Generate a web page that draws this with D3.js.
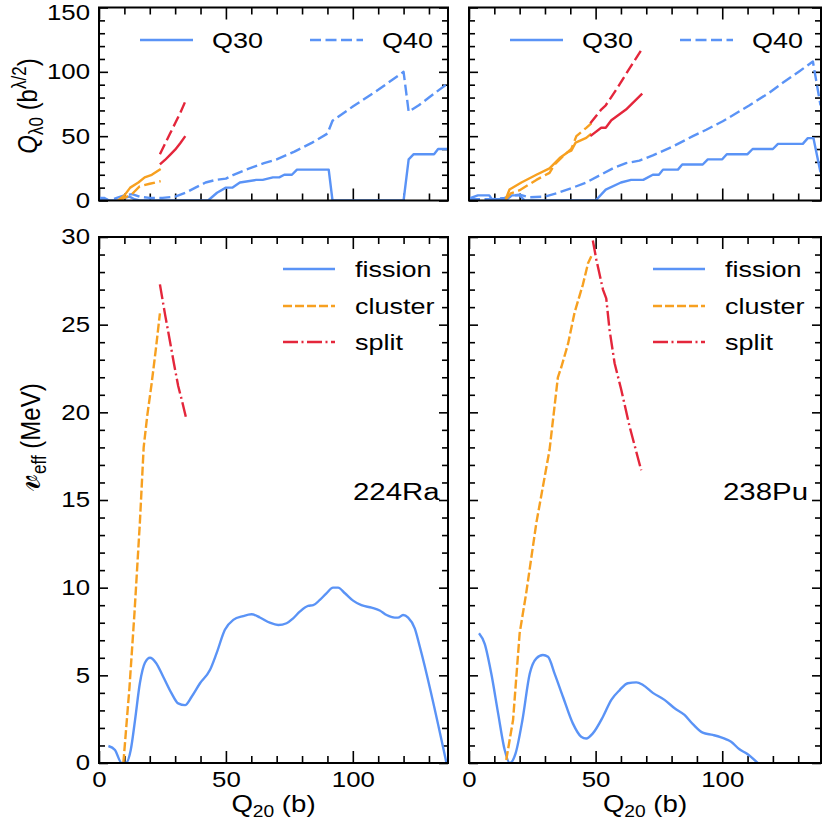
<!DOCTYPE html>
<html><head><meta charset="utf-8">
<script src="https://cdn.jsdelivr.net/npm/d3@7"></script>
<style>
body{margin:0;background:#fff}
svg{display:block}
text{font-family:"Liberation Sans",Arial,Helvetica,sans-serif;fill:#000}
</style>
</head><body>
<svg id="c" width="830" height="830"></svg>
<script>
// ---------------- data ----------------
// Top-left (224Ra) multipole moments
const ra_fisQ30_q = [0,2,4,8,10,12,14,16,43,46.5,50,52.5,55.5,62,64.5,68.5,71,73,76,78,90.5,92,120,122,124,132,133.6,137.5];
const ra_fisQ30_v = [2,2,0,0,2,3,1,0,0,6,10,10,14,16,16,18,18,20,20,24,24,0,0,32,36,36,40,40];
const ra_fisQ40_q = [0,2,4,7,10,13,16,20,25,30,34,38,42,46,50,53,58,65,70,77,84,90,92,100,110,120,122,126,130,134,137.5];
const ra_fisQ40_v = [1,1,0,2,4,5,3,2,2,3,6,10,14,16,17,20,24,29,32,38,45,52,62,73,86,100,69,74,80,86,91];
const ra_cluQ30_q = [7.5,10,12.3,15.5,18,20.8,24.3];
const ra_cluQ30_v = [0,4,10,14,18,20,24.5];
const ra_cluQ40_q = [7.5,10,13,16,20,24.3];
const ra_cluQ40_v = [0,2,5,11,13,15];
const ra_splQ30_q = [24,26,28,30,32,34];
const ra_splQ30_v = [28,31.5,35.5,39.5,44.5,50];
const ra_splQ40_q = [24,26,28,30,32,34];
const ra_splQ40_v = [36,44,52,60,68,77];

// Top-right (238Pu) multipole moments
const pu_fisQ30_q = [0,3.5,8,9,12,15,17,20,22,50,54,60,64,68.8,72.6,75,76.6,82.5,84.2,92.3,94.3,100,101.8,110,112,120,122,131.8,133.8,136,138.8];
const pu_fisQ30_v = [1.5,4,4,1,1,1,4,4,0,0,8.5,14,16,16,20,20,24,24,28,28,32,32,36,36,40,40,44,44,48.5,48.5,22];
const pu_fisQ40_q = [0,9,14,18,20,24,30,34.5,41,46.3,51.6,56.8,62,67.3,72.6,80.5,88.4,93.7,100.2,110.8,118.7,123.9,130.5,135.8,138.8];
const pu_fisQ40_v = [1,1,2,4,4.5,2.5,3,5.5,10,14,19.5,25,29,31,35,42,50,55,61.6,74,84,91.5,100.5,108,74];
const pu_cluQ30_q = [14.5,16,20.7,26.6,31.8,35.8,39,40.4,42.1,46.3,48.3];
const pu_cluQ30_v = [1,8.5,14,20,25,33,37.5,38.7,45,48.7,52];
const pu_cluQ40_q = [14.5,16.5,20,26.6,31.8,33.8,37.8,40.4,42.4,46.3,48.3];
const pu_cluQ40_v = [1,5.5,8,16,21.5,28,35.7,40,50,56.5,60];
const pu_splQ30_q = [47.9,52.2,54,56.2,62,68.4];
const pu_splQ30_v = [50,56.5,56.5,62.4,70.7,83];
const pu_splQ40_q = [47.9,52.2,54,58.1,62.7,68.4];
const pu_splQ40_v = [60,70.7,74,86,100.5,118];

// Bottom-left (224Ra) effective potential
const ra_fis_q = [3.7,6.3,8.9,10.6,12.5,14.2,16.1,18.1,20.1,22.4,25.3,28.6,31.2,33.9,36.5,39.8,43.7,46.3,49.6,52.9,56.8,60.1,63.4,67.3,70.6,73.9,76.5,79.1,82.4,84.4,87,89.6,92.2,94.2,96.9,100.1,103.4,107.4,110.6,113.3,116.5,117.8,119.8,121.8,124.4,126.4,136.9];
const ra_fis_v = [0.97,0.74,0,0,0.74,2.45,4.55,5.72,6.0,5.72,4.92,3.97,3.4,3.3,3.78,4.55,5.3,6.25,7.6,8.16,8.38,8.48,8.3,8.0,7.87,7.97,8.25,8.63,8.96,9.0,9.3,9.68,10.0,10.0,9.68,9.26,9.0,8.86,8.7,8.44,8.29,8.29,8.44,8.29,7.68,6.63,0];
const ra_clu_q = [9.6,12,14,16.1,17.6,19,20.7,22.4,24];
const ra_clu_v = [0,4.3,8.6,13.7,18,19.8,21.6,23.6,25.65];
const ra_spl_q = [24,26,27.9,29.5,31.2,32.8,34.2];
const ra_spl_v = [27.3,25.6,24.1,22.8,21.5,20.6,19.75];

// Bottom-right (238Pu) effective potential
const pu_fis_q = [3.95,6.2,8.8,11.5,14.1,16.1,18.4,21.1,24,26.6,29.2,31.2,33.8,37.1,41,44.3,46.3,48.9,52.9,56.2,59.5,62.7,66.1,68.7,72.6,77.2,81.2,85.1,88.4,92.3,96.3,101.6,103.5,106.8,109.5,114];
const pu_fis_v = [7.4,6.8,5.1,2.83,0.74,0,0.55,2.45,5.1,5.97,6.16,6.06,5.1,3.78,2.26,1.5,1.4,1.69,2.64,3.6,4.16,4.55,4.6,4.45,4.0,3.6,3.12,2.74,2.22,1.73,1.6,1.35,1.21,0.78,0.55,0];
const pu_clu_q = [14.7,17.4,20,22.6,26.6,31.8,35.1,36.5,39.1,41.7,45,47,48.3];
const pu_clu_v = [0.17,2.45,7.4,9.7,13.7,17.85,22.0,22.6,23.9,25.7,27.3,28.5,28.9];
const pu_spl_q = [48.9,50.3,52.9,54.2,55.5,57.5,60.1,63.4,68];
const pu_spl_v = [29.8,28.7,27,26.5,24.7,22.8,21.3,19.2,16.7];

// ticks / labels
const xMajor = [0,50,100];
const xMinor = d3.range(10,140,10).filter(v=>v%50!==0);
const yTopMajor = [0,50,100,150];
const yTopMinor = d3.range(10,150,10).filter(v=>v%50!==0);
const yBotMajor = [0,5,10,15,20,25,30];
const yBotMinor = d3.range(1,30,1).filter(v=>v%5!==0);
const topLegend = ["Q30","Q40"];
const botLegend = ["fission","cluster","split"];
const nuclei = ["224Ra","238Pu"];

// ---------------- drawing ----------------
const SX = 1.2;
const BLUE = "#5a93f6", ORANGE = "#f7a020", RED = "#e4263b";
const LW = 2.4;
const svg = d3.select("#c");
const zip = (a,b)=>a.map((v,i)=>[v,b[i]]);

function makePanel(c){
  const x = d3.scaleLinear().domain([0,c.xmax]).range([c.x0,c.x1]);
  const y = d3.scaleLinear().domain([0,c.ymax]).range([c.y1,c.y0]);
  const g = svg.append("g");
  const id = "clip"+Math.round(c.x0)+"_"+Math.round(c.y0);
  svg.append("clipPath").attr("id",id).append("rect")
    .attr("x",c.x0).attr("y",c.y0).attr("width",c.x1-c.x0).attr("height",c.y1-c.y0);
  const style = (sel)=>{
    sel.select(".domain").remove();
    sel.selectAll("line").attr("stroke","#000").attr("stroke-width",1.6);
    sel.selectAll("text").attr("font-size",21.5).attr("font-family",'"Liberation Sans",Arial,sans-serif')
      .attr("fill","#000").attr("transform",`scale(${SX},1)`);
  };
  // bottom
  g.append("g").attr("transform",`translate(0,${c.y1})`)
    .call(d3.axisBottom(x).tickValues(xMajor).tickSizeInner(-12).tickSizeOuter(0).tickPadding(9)
      .tickFormat(c.xLabels? d3.format("d") : ()=>"")).call(style);
  g.append("g").attr("transform",`translate(0,${c.y1})`)
    .call(d3.axisBottom(x).tickValues(xMinor).tickSizeInner(-7).tickSizeOuter(0).tickFormat(()=>"")).call(style);
  // top
  g.append("g").attr("transform",`translate(0,${c.y0})`)
    .call(d3.axisTop(x).tickValues(xMajor).tickSizeInner(-12).tickSizeOuter(0).tickFormat(()=>"")).call(style);
  g.append("g").attr("transform",`translate(0,${c.y0})`)
    .call(d3.axisTop(x).tickValues(xMinor).tickSizeInner(-7).tickSizeOuter(0).tickFormat(()=>"")).call(style);
  // left
  const la = g.append("g").attr("transform",`translate(${c.x0},0)`)
    .call(d3.axisLeft(y).tickValues(c.yMajor).tickSizeInner(-9).tickSizeOuter(0).tickPadding(7.5)
      .tickFormat(c.yLabels? d3.format("d") : ()=>"")).call(style);
  // keep the topmost label fully inside the page
  la.selectAll("text").filter(d=>d===150).attr("dy","0.58em");
  g.append("g").attr("transform",`translate(${c.x0},0)`)
    .call(d3.axisLeft(y).tickValues(c.yMinor).tickSizeInner(-6).tickSizeOuter(0).tickFormat(()=>"")).call(style);
  // right
  g.append("g").attr("transform",`translate(${c.x1},0)`)
    .call(d3.axisRight(y).tickValues(c.yMajor).tickSizeInner(-9).tickSizeOuter(0).tickFormat(()=>"")).call(style);
  g.append("g").attr("transform",`translate(${c.x1},0)`)
    .call(d3.axisRight(y).tickValues(c.yMinor).tickSizeInner(-6).tickSizeOuter(0).tickFormat(()=>"")).call(style);

  const lg = g.append("g").attr("clip-path",`url(#${id})`);
  c.series.forEach(s=>{
    const line = d3.line().x(d=>x(d[0])).y(d=>y(d[1])).curve(s.smooth? d3.curveMonotoneX : d3.curveLinear);
    lg.append("path").datum(zip(s.q,s.v)).attr("d",line).attr("fill","none")
      .attr("stroke",s.color).attr("stroke-width",LW).attr("stroke-linejoin","round")
      .attr("stroke-dasharray",s.dash||null);
  });
  g.append("rect").attr("x",c.x0).attr("y",c.y0).attr("width",c.x1-c.x0).attr("height",c.y1-c.y0)
    .attr("fill","none").attr("stroke","#000").attr("stroke-width",2);
  return {x,y,g};
}

function stext(g, x, y, str, size, anchor){
  return g.append("text").attr("transform",`translate(${x},${y}) scale(${SX},1)`)
    .attr("font-size",size).attr("text-anchor",anchor||"start").text(str);
}

const DT = "11,4.5", DB = "9,3", DD = "15,3.5,2,3.5";
const L = {x0:99,x1:448}, R = {x0:469,x1:821};
const T = {y0:7.5,y1:200.5}, B = {y0:237,y1:763};

const panels = [
  {...L,...T,xmax:137.5,ymax:150,yMajor:yTopMajor,yMinor:yTopMinor,yLabels:true,xLabels:false,top:true,
   series:[
    {q:ra_fisQ30_q,v:ra_fisQ30_v,color:BLUE},
    {q:ra_fisQ40_q,v:ra_fisQ40_v,color:BLUE,dash:DT},
    {q:ra_cluQ30_q,v:ra_cluQ30_v,color:ORANGE},
    {q:ra_cluQ40_q,v:ra_cluQ40_v,color:ORANGE,dash:DT},
    {q:ra_splQ30_q,v:ra_splQ30_v,color:RED},
    {q:ra_splQ40_q,v:ra_splQ40_v,color:RED,dash:DT}]},
  {...R,...T,xmax:139,ymax:150,yMajor:yTopMajor,yMinor:yTopMinor,yLabels:false,xLabels:false,top:true,
   series:[
    {q:pu_fisQ30_q,v:pu_fisQ30_v,color:BLUE},
    {q:pu_fisQ40_q,v:pu_fisQ40_v,color:BLUE,dash:DT},
    {q:pu_cluQ30_q,v:pu_cluQ30_v,color:ORANGE},
    {q:pu_cluQ40_q,v:pu_cluQ40_v,color:ORANGE,dash:DT},
    {q:pu_splQ30_q,v:pu_splQ30_v,color:RED},
    {q:pu_splQ40_q,v:pu_splQ40_v,color:RED,dash:DT}]},
  {...L,...B,xmax:137.5,ymax:30,yMajor:yBotMajor,yMinor:yBotMinor,yLabels:true,xLabels:true,nucleus:nuclei[0],
   series:[
    {q:ra_fis_q,v:ra_fis_v,color:BLUE,smooth:true},
    {q:ra_clu_q,v:ra_clu_v,color:ORANGE,dash:DB},
    {q:ra_spl_q,v:ra_spl_v,color:RED,dash:DD}]},
  {...R,...B,xmax:139,ymax:30,yMajor:yBotMajor,yMinor:yBotMinor,yLabels:false,xLabels:true,nucleus:nuclei[1],
   series:[
    {q:pu_fis_q,v:pu_fis_v,color:BLUE,smooth:true},
    {q:pu_clu_q,v:pu_clu_v,color:ORANGE,dash:DB},
    {q:pu_spl_q,v:pu_spl_v,color:RED,dash:DD}]}
];

panels.forEach(c=>{
  const p = makePanel(c);
  const g = p.g;
  if(c.top){
    const ly = 40;
    [[41,94,113,null],[211,264,283,DT]].forEach((o,i)=>{
      g.append("line").attr("x1",c.x0+o[0]).attr("x2",c.x0+o[1]).attr("y1",ly).attr("y2",ly)
        .attr("stroke",BLUE).attr("stroke-width",LW).attr("stroke-dasharray",o[3]);
      stext(g, c.x0+o[2], ly+8, topLegend[i], 22.5);
    });
  } else {
    const rows = [269,306,342], cols=[BLUE,ORANGE,RED], dashes=[null,DB,DD];
    botLegend.forEach((t,i)=>{
      g.append("line").attr("x1",c.x0+184).attr("x2",c.x0+236).attr("y1",rows[i]).attr("y2",rows[i])
        .attr("stroke",cols[i]).attr("stroke-width",LW).attr("stroke-dasharray",dashes[i]);
      stext(g, c.x0+256, rows[i]+8, t, 22.5);
    });
    stext(g, c.x0+254, 500, c.nucleus, 24.5);
    // x label
    const cx = (c.x0+c.x1)/2;
    const t = g.append("text").attr("transform",`translate(${cx},812) scale(${SX},1)`)
      .attr("font-size",23).attr("text-anchor","middle");
    t.append("tspan").text("Q");
    t.append("tspan").attr("font-size",16).attr("dy",5).text("20");
    t.append("tspan").attr("dy",-5).text(" (b)");
  }
});

// y labels
const yl1 = svg.append("text").attr("transform","translate(37,106) rotate(-90) scale(1,1.15)")
  .attr("font-size",24).attr("text-anchor","middle");
yl1.append("tspan").attr("font-style","italic").text("Q");
yl1.append("tspan").attr("font-size",17).attr("dy",5).text("λ0");
yl1.append("tspan").attr("dy",-5).text(" (b");
yl1.append("tspan").attr("font-size",17).attr("dy",-10).text("λ/2");
yl1.append("tspan").attr("dy",10).text(")");

const yl2 = svg.append("text").attr("transform","translate(40,437) rotate(-90) scale(1,1.15)")
  .attr("font-size",24).attr("text-anchor","middle");
yl2.append("tspan").attr("font-size",34).text("𝓋");
yl2.append("tspan").attr("font-size",17).attr("dy",5).text("eff");
yl2.append("tspan").attr("dy",-5).text(" (MeV)");
</script>
</body></html>
